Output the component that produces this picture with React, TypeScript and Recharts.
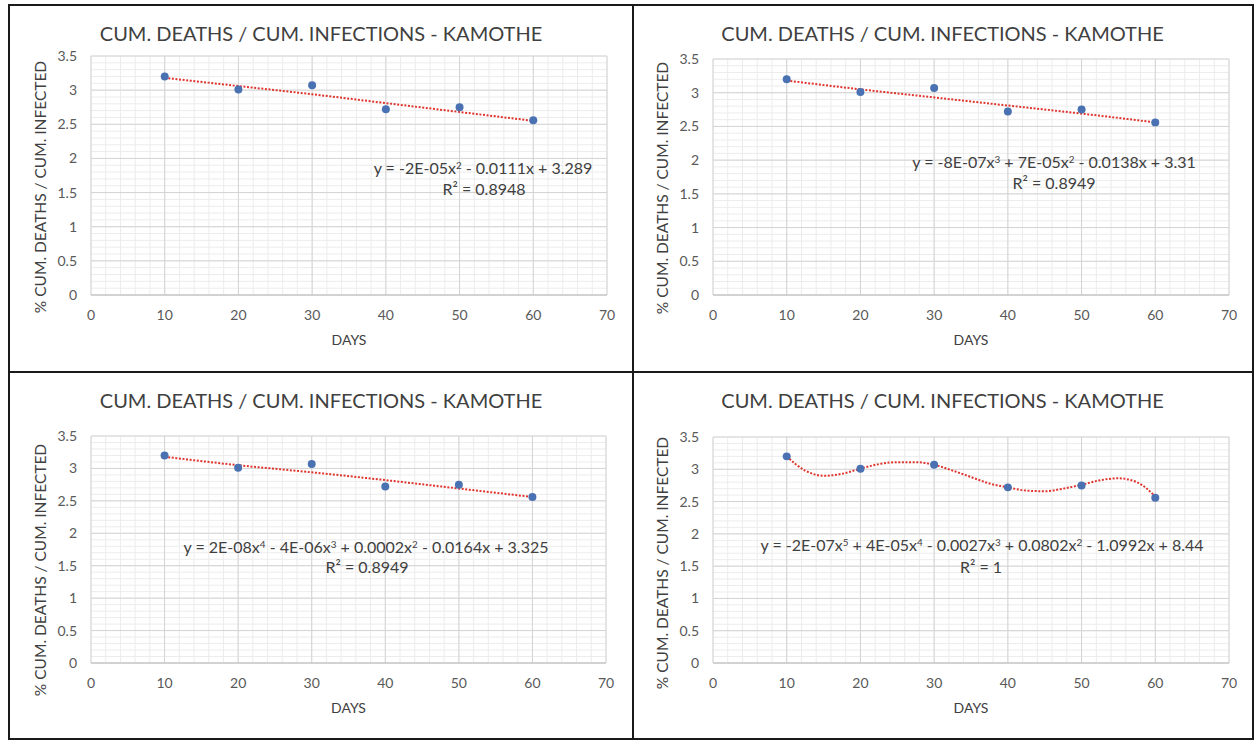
import { ComposedChart, Line, Scatter, XAxis, YAxis, ZAxis, CartesianGrid } from 'recharts'

const FONT = 'Lato, "Open Sans", sans-serif'

// observed points (days vs % cum. deaths / cum. infected)
const days = [10, 20, 30, 40, 50, 60]
const deathPct = [3.2, 3.01, 3.07, 2.72, 2.75, 2.56]

// axis ticks
const xTicks = [0, 10, 20, 30, 40, 50, 60, 70]
const yTicks = [0, 0.5, 1, 1.5, 2, 2.5, 3, 3.5]
const xMinor = Array.from({ length: 36 }, (_, i) => i * 2)
const yMinor = Array.from({ length: 36 }, (_, i) => Math.round(i * 10) / 100)

// trendlines
const trendDays = [10, 20, 30, 40, 50, 60]
const trendPoly2 = [3.18, 3.06, 2.94, 2.81, 2.68, 2.55]
const trendPoly3 = [3.18, 3.05, 2.93, 2.81, 2.69, 2.56]
const trendPoly4 = [3.18, 3.05, 2.94, 2.82, 2.69, 2.56]
const trendDays5 = [10, 12.5, 15, 17.5, 20, 22.5, 25, 27.5, 30, 32.5, 35, 37.5, 40, 42.5, 45, 47.5, 50, 52.5, 55, 57.5, 60]
const trendPoly5 = [3.2, 2.98, 2.9, 2.93, 3.01, 3.08, 3.11, 3.11, 3.07, 2.98, 2.88, 2.78, 2.72, 2.67, 2.66, 2.7, 2.76, 2.83, 2.86, 2.8, 2.58]

const title = 'CUM. DEATHS / CUM. INFECTIONS - KAMOTHE'
const yTitle = '% CUM. DEATHS / CUM. INFECTED'
const xTitle = 'DAYS'

const equations = [
  'y = -2E-05x^2 - 0.0111x + 3.289',
  'y = -8E-07x^3 + 7E-05x^2 - 0.0138x + 3.31',
  'y = 2E-08x^4 - 4E-06x^3 + 0.0002x^2 - 0.0164x + 3.325',
  'y = -2E-07x^5 + 4E-05x^4 - 0.0027x^3 + 0.0802x^2 - 1.0992x + 8.44',
]
const rSquared = ['R² = 0.8948', 'R² = 0.8949', 'R² = 0.8949', 'R² = 1']

const Y_AXIS_W = 40
const X_AXIS_H = 30

function Equation({ text }: { text: string }) {
  const parts = text.split(/\^(\d)/)
  return (
    <>
      {parts.map((p, i) =>
        i % 2 === 1 ? (
          <span key={i} style={{ fontSize: '0.62em', verticalAlign: '0.5em' }}>{p}</span>
        ) : (
          <span key={i}>{p}</span>
        )
      )}
    </>
  )
}

function Txt({ x, y, children, size, color = '#404040', rotate = false }: any) {
  return (
    <div
      style={{
        position: 'absolute',
        left: x,
        top: y,
        transform: `translate(-50%, -50%)${rotate ? ' rotate(-90deg)' : ''}`,
        whiteSpace: 'nowrap',
        fontFamily: FONT,
        fontSize: size,
        lineHeight: 1,
        color,
      }}
    >
      {children}
    </div>
  )
}

type Box = { x: number; y: number; w: number; h: number }
type Rect = { l: number; t: number; r: number; b: number }

function Panel({
  box,
  plot,
  trendX,
  trendY,
  equation,
  r2,
  eqAt,
  r2At,
  yTitleY,
}: {
  box: Box
  plot: Rect
  trendX: number[]
  trendY: number[]
  equation: string
  r2: string
  eqAt: [number, number]
  r2At: [number, number]
  yTitleY: number
}) {
  const points = days.map((d, i) => ({ x: d, y: deathPct[i] }))
  const trend = trendX.map((d, i) => ({ x: d, y: trendY[i] }))
  const margin = {
    left: plot.l - box.x - Y_AXIS_W,
    top: plot.t - box.y,
    right: box.x + box.w - plot.r,
    bottom: box.y + box.h - plot.b - X_AXIS_H,
  }
  const tickStyle = { fill: '#595959', fontSize: 14, fontFamily: FONT }
  return (
    <div style={{ position: 'absolute', left: box.x, top: box.y, width: box.w, height: box.h }}>
      <ComposedChart width={box.w} height={box.h} margin={margin}>
        <CartesianGrid horizontalValues={yMinor} verticalValues={xMinor} stroke="#ececec" strokeWidth={1} />
        <CartesianGrid stroke="#d4d4d4" strokeWidth={1} />
        <XAxis
          type="number"
          dataKey="x"
          domain={[0, 70]}
          ticks={xTicks}
          interval={0}
          height={X_AXIS_H}
          tickLine={false}
          tickSize={0}
          tickMargin={15}
          axisLine={{ stroke: '#bfbfbf' }}
          tick={tickStyle}
        />
        <YAxis
          type="number"
          dataKey="y"
          domain={[0, 3.5]}
          ticks={yTicks}
          interval={0}
          width={Y_AXIS_W}
          tickLine={false}
          tickSize={0}
          tickMargin={14}
          axisLine={false}
          tick={tickStyle}
        />
        <ZAxis range={[50, 50]} />
        <Line
          data={trend}
          dataKey="y"
          type="monotone"
          stroke="#e0352e"
          strokeWidth={2}
          strokeDasharray="2 1.6"
          dot={false}
          activeDot={false}
          isAnimationActive={false}
        />
        <Scatter data={points} dataKey="y" fill="#4a72b2" isAnimationActive={false} />
      </ComposedChart>
      <Txt x={box.w / 2} y={28} size={20}>
        {title}
      </Txt>
      <Txt x={(plot.l + plot.r) / 2 - box.x} y={plot.b + 45 - box.y} size={14}>
        {xTitle}
      </Txt>
      <Txt x={plot.l - 50 - box.x} y={yTitleY - box.y} size={15.5} rotate>
        {yTitle}
      </Txt>
      <Txt x={eqAt[0] - box.x} y={eqAt[1] - box.y} size={16}>
        <Equation text={equation} />
      </Txt>
      <Txt x={r2At[0] - box.x} y={r2At[1] - box.y} size={16}>
        {r2}
      </Txt>
    </div>
  )
}

const line = (l: number, t: number, w: number, h: number) => (
  <div style={{ position: 'absolute', left: l, top: t, width: w, height: h, background: '#1a1a1a' }} />
)

export default function App() {
  return (
    <div style={{ position: 'absolute', left: 0, top: 0, width: 1254, height: 742, background: '#fff', overflow: 'hidden' }}>
      <Panel
        box={{ x: 9, y: 5, w: 624, h: 367 }}
        plot={{ l: 91, t: 56, r: 607, b: 295 }}
        trendX={trendDays}
        trendY={trendPoly2}
        equation={equations[0]}
        r2={rSquared[0]}
        eqAt={[483, 168]}
        r2At={[484, 189]}
        yTitleY={187}
      />
      <Panel
        box={{ x: 633, y: 5, w: 619, h: 367 }}
        plot={{ l: 713, t: 59, r: 1229, b: 295 }}
        trendX={trendDays}
        trendY={trendPoly3}
        equation={equations[1]}
        r2={rSquared[1]}
        eqAt={[1054, 162]}
        r2At={[1054, 183]}
        yTitleY={188}
      />
      <Panel
        box={{ x: 9, y: 372, w: 624, h: 367 }}
        plot={{ l: 91, t: 436, r: 606, b: 663 }}
        trendX={trendDays}
        trendY={trendPoly4}
        equation={equations[2]}
        r2={rSquared[2]}
        eqAt={[366, 547]}
        r2At={[367, 567]}
        yTitleY={570}
      />
      <Panel
        box={{ x: 633, y: 372, w: 619, h: 367 }}
        plot={{ l: 713, t: 437, r: 1229, b: 663 }}
        trendX={trendDays5}
        trendY={trendPoly5}
        equation={equations[3]}
        r2={rSquared[3]}
        eqAt={[982, 545]}
        r2At={[981, 567]}
        yTitleY={563}
      />
      {line(8, 4, 1246, 2)}
      {line(8, 738, 1246, 2)}
      {line(8, 4, 2, 736)}
      {line(1252, 4, 2, 736)}
      {line(632, 4, 2, 736)}
      {line(8, 371, 1246, 2)}
    </div>
  )
}
